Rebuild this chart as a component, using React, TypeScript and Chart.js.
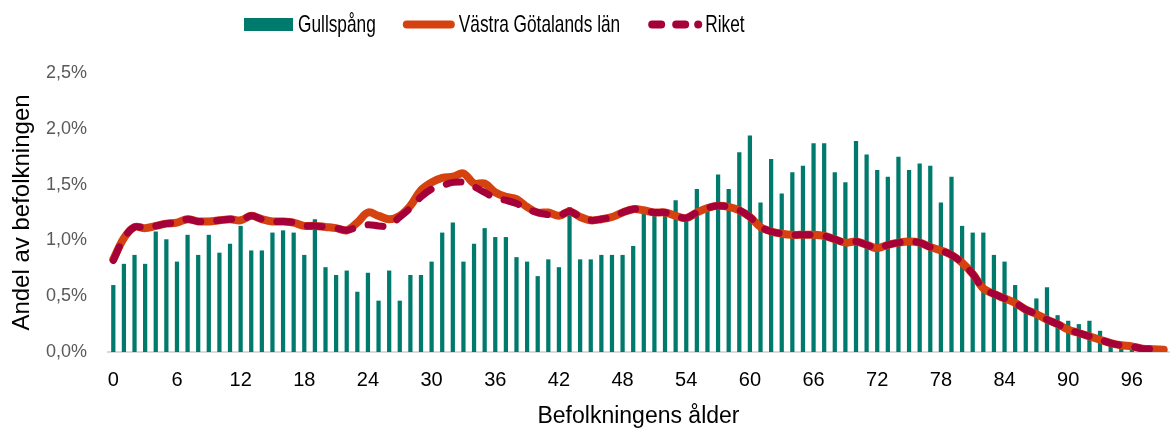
import React, { useEffect, useRef } from 'react';
import { Chart, registerables } from 'chart.js';

Chart.register(...registerables);

// Categories: age 0..99
const ages: string[] = Array.from({ length: 100 }, (_, i) => String(i));

// Age labels shown on the x axis
const xTickLabels: string[] = ['0', '6', '12', '18', '24', '30', '36', '42', '48', '54', '60', '66', '72', '78', '84', '90', '96'];

// Y axis ticks (percent)
const yTickValues: number[] = [0, 0.5, 1.0, 1.5, 2.0, 2.5];

const seriesNames: string[] = ['Gullspång', 'Västra Götalands län', 'Riket'];

// Gullspång (bars), % of population per age
const gullspang: number[] = [
  0.60, 0.79, 0.87, 0.79, 1.08, 1.01, 0.81, 1.05, 0.87, 1.05,
  0.89, 0.97, 1.13, 0.91, 0.91, 1.07, 1.09, 1.07, 0.87, 1.19,
  0.76, 0.69, 0.73, 0.54, 0.71, 0.46, 0.73, 0.46, 0.69, 0.69,
  0.81, 1.07, 1.16, 0.81, 0.97, 1.11, 1.03, 1.03, 0.85, 0.81,
  0.68, 0.83, 0.76, 1.30, 0.83, 0.83, 0.87, 0.87, 0.87, 0.95,
  1.24, 1.24, 1.22, 1.36, 1.20, 1.46, 1.28, 1.59, 1.46, 1.79,
  1.94, 1.34, 1.73, 1.42, 1.61, 1.67, 1.87, 1.87, 1.61, 1.52,
  1.89, 1.77, 1.63, 1.57, 1.75, 1.63, 1.69, 1.67, 1.34, 1.57,
  1.13, 1.07, 1.07, 0.87, 0.81, 0.60, 0.40, 0.48, 0.58, 0.33,
  0.28, 0.25, 0.28, 0.19, 0.11, 0.09, 0.08, 0.03, 0.02, 0.01,
];

// Västra Götalands län (solid orange line)
const vastraGotaland: number[] = [
  0.83, 1.02, 1.12, 1.11, 1.13, 1.15, 1.16, 1.19, 1.17, 1.17,
  1.18, 1.19, 1.18, 1.22, 1.19, 1.17, 1.17, 1.16, 1.13, 1.13,
  1.12, 1.11, 1.09, 1.16, 1.25, 1.22, 1.19, 1.22, 1.31, 1.45,
  1.52, 1.56, 1.57, 1.60, 1.51, 1.51, 1.43, 1.39, 1.37, 1.30,
  1.25, 1.25, 1.22, 1.26, 1.21, 1.18, 1.19, 1.21, 1.25, 1.28,
  1.27, 1.25, 1.25, 1.22, 1.20, 1.25, 1.29, 1.31, 1.30, 1.27,
  1.21, 1.12, 1.08, 1.06, 1.05, 1.05, 1.05, 1.04, 1.01, 0.98,
  0.99, 0.96, 0.93, 0.96, 0.98, 0.99, 0.98, 0.94, 0.91, 0.87,
  0.80, 0.70, 0.57, 0.52, 0.48, 0.44, 0.38, 0.34, 0.29, 0.25,
  0.20, 0.17, 0.14, 0.11, 0.08, 0.06, 0.05, 0.03, 0.025, 0.02,
];

// Riket (dashed crimson line)
const riket: number[] = [
  0.82, 1.02, 1.12, 1.11, 1.13, 1.15, 1.16, 1.19, 1.17, 1.17,
  1.18, 1.19, 1.18, 1.22, 1.19, 1.17, 1.17, 1.16, 1.13, 1.13,
  1.12, 1.11, 1.09, 1.12, 1.14, 1.13, 1.13, 1.21, 1.29, 1.39,
  1.46, 1.49, 1.52, 1.52, 1.48, 1.43, 1.38, 1.36, 1.33, 1.28,
  1.25, 1.23, 1.22, 1.26, 1.21, 1.18, 1.19, 1.21, 1.25, 1.28,
  1.27, 1.25, 1.25, 1.22, 1.20, 1.25, 1.29, 1.31, 1.30, 1.27,
  1.21, 1.12, 1.08, 1.06, 1.05, 1.05, 1.05, 1.04, 1.01, 0.98,
  0.99, 0.96, 0.93, 0.96, 0.98, 0.99, 0.98, 0.94, 0.91, 0.87,
  0.80, 0.70, 0.57, 0.52, 0.48, 0.44, 0.38, 0.34, 0.29, 0.25,
  0.20, 0.17, 0.14, 0.11, 0.08, 0.06, 0.05, 0.03, 0.025, 0.02,
];

const TEAL = '#007A6C';
const ORANGE = '#D5410F';
const CRIMSON = '#A5003A';
const FONT = '"Liberation Sans", Arial, sans-serif';

const legendPlugin = {
  id: 'customLegend',
  afterDraw(chart: any) {
    const ctx: CanvasRenderingContext2D = chart.ctx;
    const ds = chart.data.datasets;
    const cy = 24.5;
    const sx = 0.72;
    ctx.save();
    ctx.font = `24px ${FONT}`;
    ctx.textBaseline = 'middle';
    ctx.textAlign = 'left';
    const drawText = (t: string, x0: number) => {
      ctx.save();
      ctx.translate(x0, cy + 1);
      ctx.scale(sx, 1);
      ctx.fillStyle = '#000';
      ctx.fillText(t, 0, 0);
      ctx.restore();
      return ctx.measureText(t).width * sx;
    };
    let x = 244;
    // bar item
    ctx.fillStyle = ds[0].backgroundColor;
    ctx.fillRect(x, cy - 6.5, 49, 13);
    x += 54;
    x += drawText(ds[0].label, x) + 27;
    // solid line item
    ctx.strokeStyle = ds[1].borderColor;
    ctx.lineWidth = 8;
    ctx.lineCap = 'round';
    ctx.beginPath();
    ctx.moveTo(x + 4, cy);
    ctx.lineTo(x + 48, cy);
    ctx.stroke();
    x += 56;
    x += drawText(ds[1].label, x) + 28;
    // dashed item
    ctx.strokeStyle = ds[2].borderColor;
    ctx.lineWidth = 8;
    ctx.lineCap = 'round';
    ctx.beginPath();
    ctx.moveTo(x + 4, cy);
    ctx.lineTo(x + 13, cy);
    ctx.moveTo(x + 28, cy);
    ctx.lineTo(x + 37, cy);
    ctx.stroke();
    ctx.fillStyle = ds[2].borderColor;
    ctx.beginPath();
    ctx.arc(x + 50, cy, 4, 0, Math.PI * 2);
    ctx.fill();
    x += 57;
    drawText(ds[2].label, x);
    ctx.restore();
  },
};

export default function App() {
  const canvasRef = useRef<HTMLCanvasElement | null>(null);

  useEffect(() => {
    if (!canvasRef.current) return;
    const chart = new Chart(canvasRef.current, {
      type: 'bar',
      data: {
        labels: ages,
        datasets: [
          {
            type: 'bar',
            label: seriesNames[0],
            data: gullspang,
            backgroundColor: TEAL,
            borderWidth: 0,
            barPercentage: 0.4,
            categoryPercentage: 1,
            order: 3,
          } as any,
          {
            type: 'line',
            label: seriesNames[1],
            data: vastraGotaland,
            borderColor: ORANGE,
            backgroundColor: ORANGE,
            borderWidth: 8,
            pointRadius: 0,
            tension: 0.35,
            borderCapStyle: 'round',
            borderJoinStyle: 'round',
            fill: false,
            order: 2,
          } as any,
          {
            type: 'line',
            label: seriesNames[2],
            data: riket,
            borderColor: CRIMSON,
            backgroundColor: CRIMSON,
            borderWidth: 7,
            borderDash: [15, 16],
            pointRadius: 0,
            tension: 0.35,
            borderCapStyle: 'round',
            borderJoinStyle: 'round',
            fill: false,
            order: 1,
          } as any,
        ],
      },
      options: {
        responsive: false,
        animation: false,
        devicePixelRatio: 1,
        layout: { padding: { top: 73, right: 1, bottom: 0, left: 0 } },
        plugins: {
          legend: { display: false },
          tooltip: { enabled: false },
        },
        scales: {
          x: {
            type: 'category',
            offset: true,
            grid: { display: false, drawTicks: true, tickLength: 16 },
            border: { display: true, color: '#d9d9d9', width: 2 },
            ticks: {
              autoSkip: false,
              maxRotation: 0,
              minRotation: 0,
              padding: 0,
              color: '#000',
              font: { family: FONT, size: 20 },
              callback: function (this: any, _v: any, i: number) {
                const lab = ages[i];
                return xTickLabels.includes(lab) ? lab : '';
              },
            },
            title: {
              display: true,
              text: 'Befolkningens ålder',
              color: '#000',
              font: { family: FONT, size: 23, lineHeight: 1 },
              padding: { top: 0, bottom: 0 },
            },
            afterFit: (s: any) => {
              s.height = 76;
              s.paddingLeft = 0;
              s.paddingRight = 0;
            },
          },
          y: {
            min: yTickValues[0],
            max: yTickValues[yTickValues.length - 1],
            grid: { display: false, drawTicks: false },
            border: { display: false },
            ticks: {
              stepSize: yTickValues[1] - yTickValues[0],
              padding: 21,
              color: '#595959',
              font: { family: FONT, size: 18 },
              callback: (v: any) => Number(v).toFixed(1).replace('.', ',') + '%',
            },
            title: {
              display: true,
              text: 'Andel av befolkningen',
              color: '#000',
              font: { family: FONT, size: 24, lineHeight: 1 },
              padding: { top: 10, bottom: 0 },
            },
            afterFit: (s: any) => {
              s.width = 108;
              s.paddingTop = 0;
              s.paddingBottom = 0;
            },
          },
        },
      },
      plugins: [legendPlugin],
    });
    return () => chart.destroy();
  }, []);

  return (
    <div style={{ position: 'fixed', left: 0, top: 0, width: 1170, height: 428, background: '#fff' }}>
      <canvas ref={canvasRef} width={1170} height={428} style={{ display: 'block' }} />
    </div>
  );
}
